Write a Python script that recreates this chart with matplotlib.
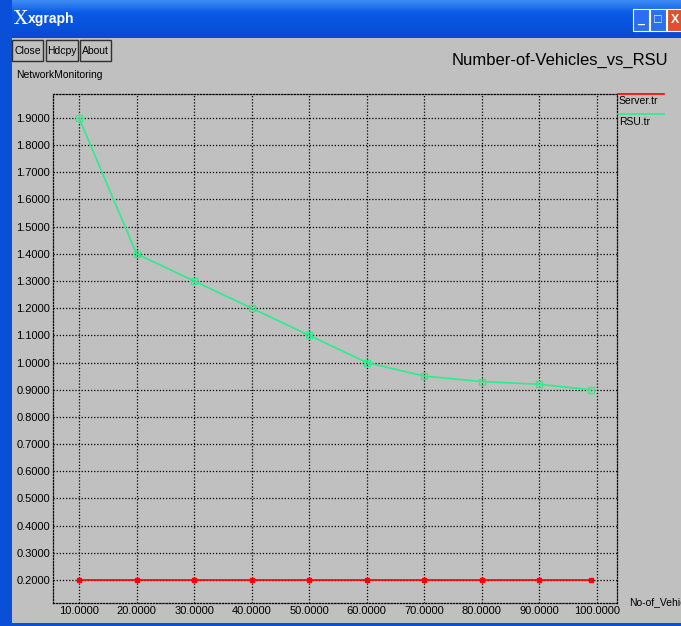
import numpy as np
import matplotlib
matplotlib.use("Agg")
import matplotlib.pyplot as plt
from matplotlib.patches import Rectangle

plt.rcParams['font.family'] = ['Liberation Sans Narrow', 'Liberation Sans', 'DejaVu Sans']

vehicles = [10, 20, 30, 40, 50, 60, 70, 80, 90, 99]
rsu = [1.90, 1.40, 1.30, 1.20, 1.10, 1.00, 0.95, 0.93, 0.92, 0.90]
server = [0.20, 0.20, 0.20, 0.20, 0.20, 0.20, 0.20, 0.20, 0.20, 0.20]
x_ticks = [10, 20, 30, 40, 50, 60, 70, 80, 90, 100]
y_ticks = [0.2, 0.3, 0.4, 0.5, 0.6, 0.7, 0.8, 0.9, 1.0, 1.1, 1.2, 1.3, 1.4, 1.5, 1.6, 1.7, 1.8, 1.9]

W, H = 681, 626
GRAY = '#c0c0c0'
GREEN = '#2aee8a'
RED = '#ff0000'
dots = (0, (1, 1.5))


def fx(x):
    return x / W


def fy(y):
    return 1 - y / H


fig = plt.figure(figsize=(W / 100, H / 100), dpi=100)
fig.patch.set_facecolor(GRAY)

# window chrome: blue frame and title bar
fig.patches.append(Rectangle((0, 0), fx(12), 1, transform=fig.transFigure,
                             facecolor='#0a4fd8', edgecolor='none', zorder=0))
fig.patches.append(Rectangle((0, 0), 1, fy(623), transform=fig.transFigure,
                             facecolor='#0a4fd8', edgecolor='none', zorder=0))
tb = fig.add_axes([0, fy(38), 1, 38 / H])
grad = np.linspace(0, 1, 40).reshape(-1, 1)
tb.imshow(grad, aspect='auto', extent=[0, 1, 0, 1],
          cmap=matplotlib.colors.LinearSegmentedColormap.from_list(
              'xp', ['#3d8cf5', '#0a5ae6', '#0853dc', '#0a4ad0']))
tb.set_axis_off()
fig.text(fx(14), fy(19), 'X', color='white', fontsize=14, va='center',
         family=['DejaVu Serif'])
fig.text(fx(28), fy(19), 'xgraph', color='white', fontsize=10, fontweight='bold',
         va='center')
for x0, fc, sym in [(633, '#2a6ff0', '_'), (650, '#2a6ff0', '□'), (667, '#e0502a', 'X')]:
    fig.patches.append(Rectangle((fx(x0), fy(31)), 16 / W, 22 / H, transform=fig.transFigure,
                                 facecolor=fc, edgecolor='white', lw=0.8, zorder=5))
    fig.text(fx(x0 + 8), fy(20), sym, color='white', fontsize=9, ha='center',
             va='center', fontweight='bold', zorder=6)

# xgraph buttons
for x0, x1, lab in [(12, 43, 'Close'), (46, 78, 'Hdcpy'), (80, 111, 'About')]:
    fig.patches.append(Rectangle((fx(x0), fy(61)), (x1 - x0) / W, 21 / H,
                                 transform=fig.transFigure, facecolor=GRAY,
                                 edgecolor='#303030', lw=1))
    fig.text(fx((x0 + x1) / 2), fy(51), lab, fontsize=7.5, ha='center', va='center')
fig.text(fx(16), fy(75), 'NetworkMonitoring', fontsize=7.5, va='center')
fig.text(fx(560), fy(60), 'Number-of-Vehicles_vs_RSU', fontsize=12, ha='center',
         va='center')

# plot area
ax = fig.add_axes([fx(53), fy(603), 564 / W, 509 / H])
ax.set_facecolor(GRAY)
ax.plot(vehicles, server, color=RED, lw=1.2, marker='s', ms=3,
        mfc=RED, mec=RED, zorder=3)
ax.plot(vehicles, rsu, color=GREEN, lw=1.2, marker='s', ms=5,
        mfc='none', mec=GREEN, zorder=3)
ax.set_xlim(5.48, 103.47)
ax.set_ylim(0.1154, 1.988)
ax.set_xticks(x_ticks)
ax.set_yticks(y_ticks)
ax.set_xticklabels(['%.4f' % v for v in x_ticks], fontsize=8)
ax.set_yticklabels(['%.4f' % v for v in y_ticks], fontsize=8)
ax.tick_params(length=0, pad=2)
ax.grid(True, color='black', linestyle=dots, lw=0.9)
for s in ax.spines.values():
    s.set_linestyle(dots)
    s.set_linewidth(0.9)
    s.set_color('black')

# legend drawn like xgraph, outside the box on the right
fig.add_artist(plt.Line2D([fx(618), fx(664)], [fy(94), fy(94)], color=RED, lw=1.2,
                          transform=fig.transFigure))
fig.add_artist(plt.Line2D([fx(618), fx(664)], [fy(114), fy(114)], color=GREEN, lw=1.2,
                          transform=fig.transFigure))
fig.text(fx(619), fy(101), 'Server.tr', fontsize=7.5, va='center')
fig.text(fx(619), fy(122), 'RSU.tr', fontsize=7.5, va='center')
# the window edge cuts this label in the original screenshot
fig.text(fx(629), fy(602), 'No-of_Vehicles', fontsize=7.5, va='center')

fig.savefig('out.png', dpi=100, facecolor=fig.get_facecolor())
